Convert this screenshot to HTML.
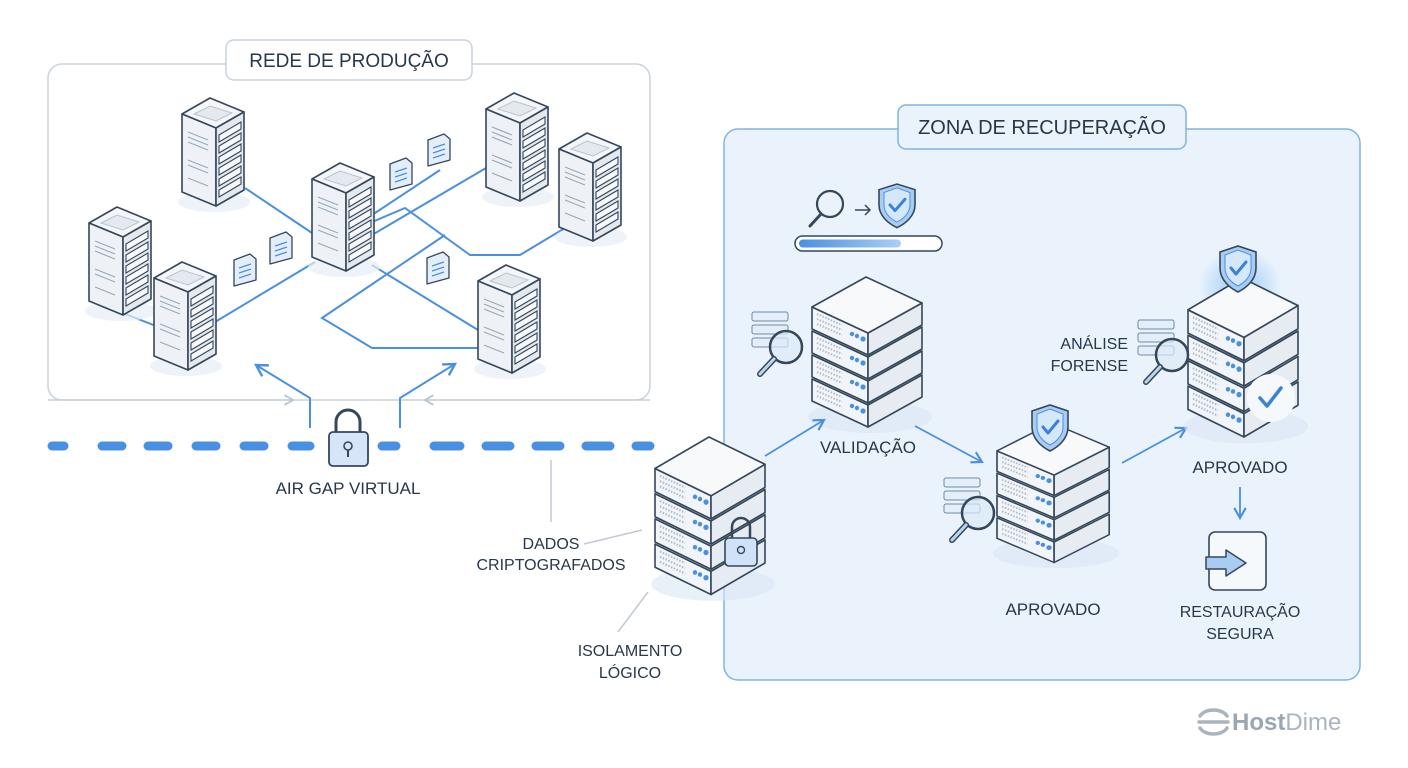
<!DOCTYPE html>
<html><head><meta charset="utf-8"><style>
html,body{margin:0;padding:0;background:#fff}
svg{display:block}
text{font-family:"Liberation Sans",sans-serif;fill:#26384a}
</style></head><body>
<svg width="1408" height="768" viewBox="0 0 1408 768" xmlns="http://www.w3.org/2000/svg">
<defs>
<radialGradient id="glow" cx="50%" cy="50%" r="50%"><stop offset="0" stop-color="#5aa8f0" stop-opacity=".55"/><stop offset="1" stop-color="#5aa8f0" stop-opacity="0"/></radialGradient>
<linearGradient id="pb" x1="0" x2="1"><stop offset="0" stop-color="#4a90e2"/><stop offset="1" stop-color="#a9cff5"/></linearGradient>
<marker id="ah" viewBox="0 0 10 10" refX="8" refY="5" markerWidth="8" markerHeight="8" orient="auto"><path d="M1,1 L8,5 L1,9" fill="none" stroke="#4a90e2" stroke-width="1.5"/></marker>
<marker id="ahg" viewBox="0 0 10 10" refX="8" refY="5" markerWidth="8" markerHeight="8" orient="auto"><path d="M1,1 L8,5 L1,9" fill="none" stroke="#b8c4d0" stroke-width="1.5"/></marker>
<g id="tw">
 <ellipse cx="32" cy="104" rx="36" ry="10" fill="#e6eef6" opacity=".7"/>
 <path d="M0,16 L28,0 L62,14 L34,30 Z" fill="#f4f6f9" stroke="#35475a" stroke-width="1.6" stroke-linejoin="round"/>
 <path d="M12,16 L28,8 L50,15 L34,23 Z" fill="#e4e9ef" stroke="#b9c4cf"/>
 <path d="M0,16 L34,30 L34,108 L0,94 Z" fill="#eef2f6" stroke="#35475a" stroke-width="1.6" stroke-linejoin="round"/>
 <path d="M34,30 L62,14 L62,92 L34,108 Z" fill="#e3e9ef" stroke="#35475a" stroke-width="1.6" stroke-linejoin="round"/>
 <g stroke="#9aa9b8" stroke-width="1.2"><path d="M6,34 L26,42 M6,39 L26,47 M6,44 L26,52 M6,62 L26,70 M6,67 L26,75 M6,80 L26,88"/></g>
 <g fill="#f6f8fb" stroke="#35475a" stroke-width="1.1">
  <path d="M37,37 L59,24 L59,31 L37,44 Z"/><path d="M37,48 L59,35 L59,42 L37,55 Z"/><path d="M37,59 L59,46 L59,53 L37,66 Z"/><path d="M37,70 L59,57 L59,64 L37,77 Z"/><path d="M37,81 L59,68 L59,75 L37,88 Z"/><path d="M37,92 L59,79 L59,86 L37,99 Z"/>
 </g>
</g>
<g id="slab">
 <path d="M0,0 L56,26 L56,48 L0,22 Z" fill="#f1f4f8" stroke="#35475a" stroke-width="1.6" stroke-linejoin="round"/>
 <path d="M56,26 L110,-4 L110,18 L56,48 Z" fill="#e6ecf2" stroke="#35475a" stroke-width="1.6" stroke-linejoin="round"/>
 <g stroke="#b0bcc8" stroke-width="2" stroke-dasharray="1.5 1.5"><path d="M5,7 L30,18 M5,12 L30,23 M5,17 L30,28"/></g>
 <circle cx="40" cy="27" r="2.2" fill="#4a90e2"/><circle cx="45" cy="29" r="2.2" fill="#4a90e2"/><circle cx="51" cy="32" r="2.6" fill="#4a90e2"/>
</g>
<g id="stk">
 <ellipse cx="58" cy="140" rx="62" ry="16" fill="#d9e6f3" opacity=".6"/>
 <use href="#slab" transform="translate(0,102)"/>
 <use href="#slab" transform="translate(0,78)"/>
 <use href="#slab" transform="translate(0,54)"/>
 <use href="#slab" transform="translate(0,30)"/>
 <path d="M0,30 L54,0 L110,26 L56,56 Z" fill="#f8f9fb" stroke="#35475a" stroke-width="1.6" stroke-linejoin="round"/>
</g>
<g id="doc">
 <path d="M0,6 L16,0 L22,5 L22,26 L0,32 Z" fill="#e4eefa" stroke="#35475a" stroke-width="1.3" stroke-linejoin="round"/>
 <path d="M5,14 L17,10 M5,19 L17,15 M5,24 L17,20" stroke="#4a90e2" stroke-width="1.3"/>
</g>
<g id="mag">
 <rect x="0" y="0" width="36" height="9" rx="2" fill="#e4eefa" stroke="#6f8aa6"/>
 <rect x="0" y="13" width="36" height="9" rx="2" fill="#e4eefa" stroke="#6f8aa6"/>
 <rect x="0" y="26" width="36" height="9" rx="2" fill="#e4eefa" stroke="#6f8aa6"/>
 <circle cx="34" cy="35" r="16" fill="#dbe9f8" fill-opacity=".7" stroke="#35475a" stroke-width="2.5"/>
 <path d="M22,47 L8,62" stroke="#35475a" stroke-width="6" stroke-linecap="round"/>
 <path d="M22,47 L8,62" stroke="#bcd6f0" stroke-width="3" stroke-linecap="round"/>
</g>
<g id="shield">
 <path d="M0,6 L18,0 L36,6 L36,22 C36,34 26,42 18,46 C10,42 0,34 0,22 Z" fill="#a9cdf2" stroke="#35475a" stroke-width="1.6"/>
 <path d="M5,9 L18,4 L31,9 L31,22 C31,31 24,37 18,40 C12,37 5,31 5,22 Z" fill="#d5e7fa" stroke="#4a90e2"/>
 <path d="M11,22 L16,28 L26,16" fill="none" stroke="#3b82d6" stroke-width="3" stroke-linecap="round" stroke-linejoin="round"/>
</g>
</defs>

<!-- production box -->
<rect x="48" y="64" width="602" height="336" rx="14" fill="#fff" stroke="#c9d2db" stroke-width="1.5"/>
<g stroke="#4a90e2" stroke-width="2" fill="none">
 <path d="M245,188 L315,235"/>
 <path d="M215,322 L315,262"/>
 <path d="M120,312 L156,326"/>
 <path d="M372,235 L486,168"/>
 <path d="M372,215 L440,170"/>
 <path d="M365,225 L405,208 L470,255 L520,255 L565,228"/>
 <path d="M372,265 L478,330"/>
 <path d="M445,235 L322,318 L372,348 L478,348"/>
</g>
<use href="#tw" transform="translate(182,98)"/>
<use href="#tw" transform="translate(89,207)"/>
<use href="#tw" transform="translate(154,262)"/>
<use href="#tw" transform="translate(312,163)"/>
<use href="#tw" transform="translate(486,93)"/>
<use href="#tw" transform="translate(559,133)"/>
<use href="#tw" transform="translate(478,265)"/>
<use href="#doc" transform="translate(390,158)"/>
<use href="#doc" transform="translate(428,134)"/>
<use href="#doc" transform="translate(234,254)"/>
<use href="#doc" transform="translate(270,232)"/>
<use href="#doc" transform="translate(427,252)"/>
<rect x="226" y="40" width="246" height="40" rx="8" fill="#fff" stroke="#c9d2db" stroke-width="1.5"/>
<text x="349" y="67" font-size="19" text-anchor="middle">REDE DE PRODUÇÃO</text>

<!-- air gap -->
<path d="M48,400 L293,400" stroke="#c6d0da" stroke-width="1.5" marker-end="url(#ahg)"/>
<path d="M650,400 L425,400" stroke="#c6d0da" stroke-width="1.5" marker-end="url(#ahg)"/>
<path d="M310,428 L310,398 L256,365" stroke="#4a90e2" stroke-width="2" fill="none" marker-end="url(#ah)"/>
<path d="M400,428 L400,398 L455,364" stroke="#4a90e2" stroke-width="2" fill="none" marker-end="url(#ah)"/>
<path d="M52,446 L64,446 M102,446 L122,446 M148,446 L168,446 M196,446 L216,446 M244,446 L264,446 M292,446 L310,446 M382,446 L396,446 M434,446 L460,446 M486,446 L510,446 M536,446 L560,446 M586,446 L610,446 M636,446 L650,446" stroke="#4a90e2" stroke-width="9" stroke-linecap="round"/>
<path d="M336,432 L336,422 A12,12 0 0 1 360,422 L360,432" fill="none" stroke="#35475a" stroke-width="3"/>
<rect x="329" y="432" width="39" height="34" rx="4" fill="#d6e6f8" stroke="#35475a" stroke-width="1.8"/>
<circle cx="348" cy="446" r="4" fill="none" stroke="#35475a" stroke-width="1.6"/><path d="M348,450 L348,457" stroke="#35475a" stroke-width="2"/>
<text x="348" y="494" font-size="17" text-anchor="middle">AIR GAP VIRTUAL</text>

<!-- leader lines -->
<path d="M551,460 L551,522 M584,544 L642,530 M618,632 L648,592" stroke="#c1cad3" stroke-width="1.5" fill="none"/>
<text x="551" y="549" font-size="16" text-anchor="middle">DADOS</text>
<text x="551" y="570" font-size="16" text-anchor="middle">CRIPTOGRAFADOS</text>
<text x="630" y="656" font-size="16" text-anchor="middle">ISOLAMENTO</text>
<text x="630" y="678" font-size="16" text-anchor="middle">LÓGICO</text>

<!-- recovery zone -->
<rect x="724" y="129" width="636" height="551" rx="14" fill="#eaf3fc" stroke="#7fb3e3" stroke-width="1.5"/>
<rect x="898" y="105" width="288" height="44" rx="8" fill="#eaf3fc" stroke="#7fb3e3" stroke-width="1.5"/>
<text x="1042" y="134" font-size="20" text-anchor="middle">ZONA DE RECUPERAÇÃO</text>

<circle cx="830" cy="204" r="13" fill="none" stroke="#35475a" stroke-width="2.2"/>
<path d="M821,214 L810,226" stroke="#35475a" stroke-width="3" stroke-linecap="round"/>
<path d="M855,210 L870,210 M865,205 L870,210 L865,215" stroke="#35475a" stroke-width="1.5" fill="none"/>
<use href="#shield" transform="translate(879,184) scale(1,0.95)"/>
<rect x="795" y="236" width="147" height="15" rx="7.5" fill="#fff" stroke="#35475a" stroke-width="1.5"/>
<rect x="799" y="239.5" width="102" height="8" rx="4" fill="url(#pb)"/>

<!-- lock server -->
<use href="#stk" transform="translate(655,437) scale(1,1.05)"/>
<path d="M732,540 L732,527 A9,9 0 0 1 750,527 L750,540" fill="none" stroke="#35475a" stroke-width="2.5"/>
<rect x="725" y="538" width="32" height="28" rx="4" fill="#cfe2f7" stroke="#35475a" stroke-width="1.6"/>
<circle cx="741" cy="550" r="3.5" fill="none" stroke="#35475a" stroke-width="1.4"/>

<!-- validation -->
<use href="#mag" transform="translate(752,312)"/>
<use href="#stk" transform="translate(812,277)"/>
<text x="868" y="453" font-size="17" text-anchor="middle">VALIDAÇÃO</text>
<path d="M765,456 L824,420" stroke="#4a90e2" stroke-width="1.8" marker-end="url(#ah)"/>
<path d="M915,426 L982,462" stroke="#4a90e2" stroke-width="1.8" marker-end="url(#ah)"/>

<!-- approved middle -->
<ellipse cx="1052" cy="465" rx="40" ry="30" fill="url(#glow)"/>
<use href="#stk" transform="translate(997,423) scale(1.02,0.93)"/>
<use href="#shield" transform="translate(1032,405)"/>
<use href="#mag" transform="translate(944,478)"/>
<text x="1053" y="615" font-size="17" text-anchor="middle">APROVADO</text>
<path d="M1122,463 L1186,428" stroke="#4a90e2" stroke-width="1.8" marker-end="url(#ah)"/>

<!-- approved right -->
<ellipse cx="1240" cy="285" rx="42" ry="36" fill="url(#glow)"/>
<use href="#stk" transform="translate(1188,278) scale(1,1.06)"/>
<circle cx="1271" cy="398" r="24" fill="#f6f9fc"/>
<path d="M1260,398 L1267,406 L1281,388" fill="none" stroke="#3b82d6" stroke-width="3.5" stroke-linecap="round" stroke-linejoin="round"/>
<use href="#shield" transform="translate(1220,246)"/>
<use href="#mag" transform="translate(1138,320)"/>
<text x="1128" y="349" font-size="16" text-anchor="end">ANÁLISE</text>
<text x="1128" y="371" font-size="16" text-anchor="end">FORENSE</text>
<text x="1240" y="473" font-size="17" text-anchor="middle">APROVADO</text>
<path d="M1240,487 L1240,518" stroke="#4a90e2" stroke-width="1.8" marker-end="url(#ah)"/>
<rect x="1209" y="532" width="57" height="58" rx="6" fill="#f6f9fc" stroke="#35475a" stroke-width="1.6"/>
<path d="M1206,557 L1226,557 L1226,550 L1246,563 L1226,576 L1226,569 L1206,569 Z" fill="#a9cdf2" stroke="#35475a" stroke-width="1.5" stroke-linejoin="round"/>
<text x="1240" y="617" font-size="16" text-anchor="middle">RESTAURAÇÃO</text>
<text x="1240" y="639" font-size="16" text-anchor="middle">SEGURA</text>

<!-- logo -->
<g fill="none" stroke="#aab4be" stroke-width="3.5" stroke-linecap="round">
 <path d="M1200,716 C1205,708 1222,708 1227,716"/><path d="M1199,722 L1228,722"/><path d="M1200,728 C1205,736 1222,736 1227,728"/>
</g>
<text x="1232" y="730" font-size="24" font-weight="bold" style="fill:#9aa6b2">Host<tspan font-weight="normal" style="fill:#aab4be">Dime</tspan></text>
</svg>
</body></html>
